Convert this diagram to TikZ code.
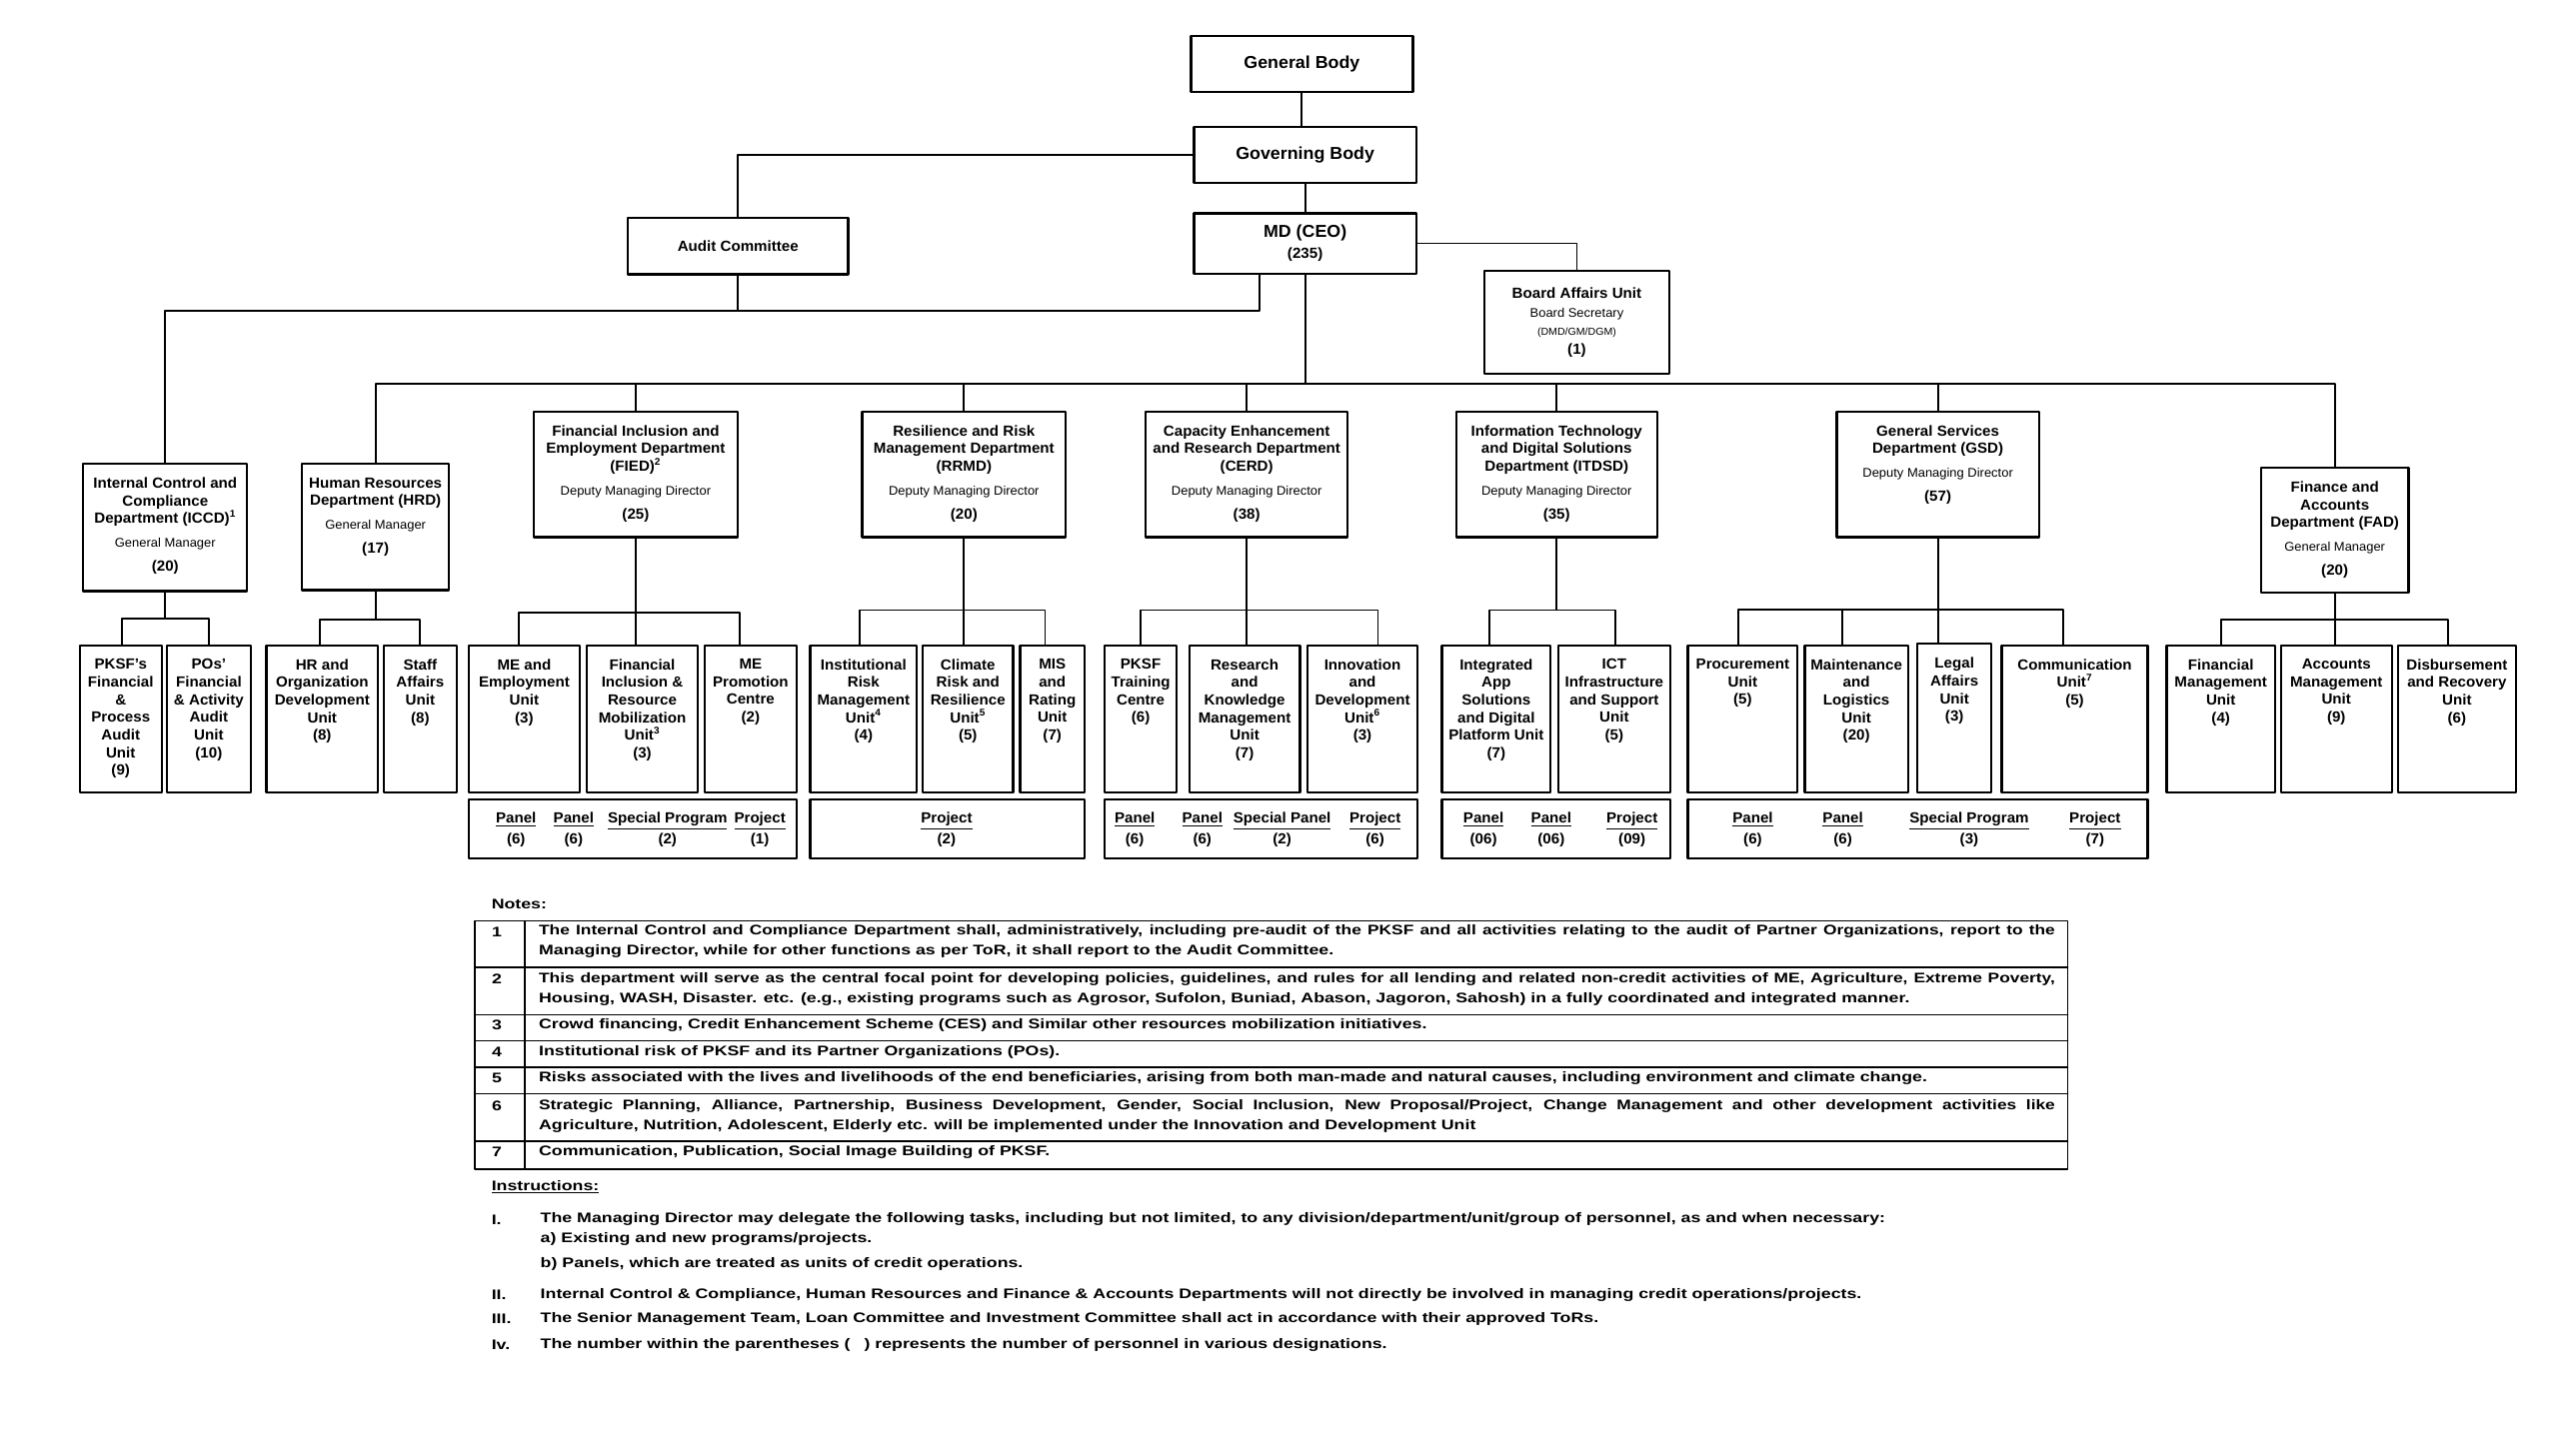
\documentclass[tikz,border=0pt]{standalone}
\usepackage{fontspec}
\setmainfont{Liberation Sans}[FakeStretch=1.03]
\newfontfamily\notesfont{Liberation Sans}[FakeStretch=1.28]
\newfontfamily\notesjfont{Liberation Sans}[FakeStretch=1.25]
\newlength\notew
\setlength\notew{929pt}
\newcommand{\fnmark}[1]{\textsuperscript{#1}}
\newcommand{\role}[1]{{\mdseries\fontsize{7.7}{10.8}\selectfont #1}}

\begin{document}
\begin{tikzpicture}[line cap=round,line join=round,x=1pt,y=-1pt,
  box/.style={draw,line width=1.4pt,inner sep=0pt,anchor=north west,align=center,font=\fontsize{9}{10.8}\selectfont\bfseries},
  ulbl/.style={anchor=north,inner sep=0pt,yshift=-9pt,align=center,font=\fontsize{9}{10.8}\selectfont\bfseries},
  link/.style={line width=1.1pt},
  pnltxt/.style={align=center,inner sep=0pt,font=\fontsize{9}{12.6}\selectfont\bfseries},
  note/.style={inner sep=0pt,anchor=west,font=\notesfont\bfseries\fontsize{8.5}{12.2}\selectfont},
  notej/.style={note,font=\notesjfont\bfseries\fontsize{8.5}{12.2}\selectfont},
  tbl/.style={line width=0.9pt}]
\useasboundingbox (0,-1.5) rectangle (1568,890.9);

% top of the chart
\node[box,minimum width=136,minimum height=34,font=\fontsize{10.6}{12.5}\selectfont\bfseries] (genbody) at (729,20) {General Body};
\node[box,minimum width=136,minimum height=34.5,font=\fontsize{10.6}{12.5}\selectfont\bfseries] (govbody) at (731,75.5) {Governing Body};
\node[box,minimum width=135,minimum height=34.5] (audit) at (384,131.5) {Audit Committee};
\node[box,minimum width=136,minimum height=37,font=\fontsize{10.6}{13}\selectfont\bfseries] (mdceo) at (731,128.5) {MD (CEO)\\{\fontsize{9}{10}\selectfont(235)}};
\node[box,minimum width=113,minimum height=63] (board) at (909,164) {Board Affairs Unit\\[1pt]\role{Board Secretary}\\{\mdseries\fontsize{6.3}{8}\selectfont(DMD/GM/DGM)}\\[1pt](1)};

% departments
\node[box,minimum width=100.5,minimum height=78,label={[ulbl]north:{Internal Control and\\Compliance\\Department (ICCD)\fnmark{1}\\[3.8pt]\role{General Manager}\\[3.8pt](20)}}] (iccd) at (50.3,282) {};
\node[box,minimum width=90,minimum height=77.5,label={[ulbl]north:{Human Resources\\Department (HRD)\\[3.8pt]\role{General Manager}\\[3.8pt](17)}}] (hrd) at (184.4,282) {};
\node[box,minimum width=124.6,minimum height=77,label={[ulbl]north:{Financial Inclusion and\\Employment Department\\(FIED)\fnmark{2}\\[3.8pt]\role{Deputy Managing Director}\\[3.8pt](25)}}] (fied) at (326.5,250) {};
\node[box,minimum width=124.7,minimum height=77,label={[ulbl]north:{Resilience and Risk\\Management Department\\(RRMD)\\[3.8pt]\role{Deputy Managing Director}\\[3.8pt](20)}}] (rrmd) at (527.6,250) {};
\node[box,minimum width=123.8,minimum height=77,label={[ulbl]north:{Capacity Enhancement\\and Research Department\\(CERD)\\[3.8pt]\role{Deputy Managing Director}\\[3.8pt](38)}}] (cerd) at (701.3,250) {};
\node[box,minimum width=123.2,minimum height=77,label={[ulbl]north:{Information Technology\\and Digital Solutions\\Department (ITDSD)\\[3.8pt]\role{Deputy Managing Director}\\[3.8pt](35)}}] (itdsd) at (891.5,250) {};
\node[box,minimum width=123.8,minimum height=77,label={[ulbl]north:{General Services\\Department (GSD)\\[3.8pt]\role{Deputy Managing Director}\\[3.8pt](57)}}] (gsd) at (1124.8,250) {};
\node[box,minimum width=90.4,minimum height=76.5,label={[ulbl]north:{Finance and\\Accounts\\Department (FAD)\\[3.8pt]\role{General Manager}\\[3.8pt](20)}}] (fad) at (1384.7,284.5) {};

% units
\node[box,minimum width=50.3,minimum height=90,label={[ulbl]north:{PKSF’s\\Financial\\\&\\Process\\Audit\\Unit\\(9)}}] (pksfaud) at (48.1,393.3) {};
\node[box,minimum width=51.3,minimum height=90,label={[ulbl]north:{POs’\\Financial\\\& Activity\\Audit\\Unit\\(10)}}] (poaud) at (101.6,393.3) {};
\node[box,minimum width=68.2,minimum height=90,label={[ulbl]north:{HR and\\Organization\\Development\\Unit\\(8)}}] (hrod) at (162.6,393.3) {};
\node[box,minimum width=44.9,minimum height=90,label={[ulbl]north:{Staff\\Affairs\\Unit\\(8)}}] (staff) at (234.3,393.3) {};
\node[box,minimum width=67.8,minimum height=90,label={[ulbl]north:{ME and\\Employment\\Unit\\(3)}}] (meemp) at (286.6,393.3) {};
\node[box,minimum width=68.1,minimum height=90,label={[ulbl]north:{Financial\\Inclusion \&\\Resource\\Mobilization\\Unit\fnmark{3}\\(3)}}] (finincl) at (358.8,393.3) {};
\node[box,minimum width=56.4,minimum height=90,label={[ulbl]north:{ME\\Promotion\\Centre\\(2)}}] (meprom) at (431,393.3) {};
\node[box,minimum width=65.2,minimum height=90,label={[ulbl]north:{Institutional\\Risk\\Management\\Unit\fnmark{4}\\(4)}}] (instrisk) at (495.8,393.3) {};
\node[box,minimum width=55.3,minimum height=90,label={[ulbl]north:{Climate\\Risk and\\Resilience\\Unit\fnmark{5}\\(5)}}] (climate) at (564.7,393.3) {};
\node[box,minimum width=39.6,minimum height=90,label={[ulbl]north:{MIS\\and\\Rating\\Unit\\(7)}}] (misr) at (624.3,393.3) {};
\node[box,minimum width=44,minimum height=90,label={[ulbl]north:{PKSF\\Training\\Centre\\(6)}}] (pksftc) at (676.2,393.3) {};
\node[box,minimum width=67.8,minimum height=90,label={[ulbl]north:{Research\\and\\Knowledge\\Management\\Unit\\(7)}}] (rkm) at (728,393.3) {};
\node[box,minimum width=67.3,minimum height=90,label={[ulbl]north:{Innovation\\and\\Development\\Unit\fnmark{6}\\(3)}}] (innov) at (800.5,393.3) {};
\node[box,minimum width=66.4,minimum height=90,label={[ulbl]north:{Integrated\\App\\Solutions\\and Digital\\Platform Unit\\(7)}}] (intapp) at (882.9,393.3) {};
\node[box,minimum width=68.4,minimum height=90,label={[ulbl]north:{ICT\\Infrastructure\\and Support\\Unit\\(5)}}] (ictinf) at (954.2,393.3) {};
\node[box,minimum width=67.2,minimum height=90,label={[ulbl]north:{Procurement\\Unit\\(5)}}] (procu) at (1033.5,393.3) {};
\node[box,minimum width=63.2,minimum height=90,label={[ulbl]north:{Maintenance\\and\\Logistics\\Unit\\(20)}}] (maint) at (1105.2,393.3) {};
\node[box,minimum width=45.5,minimum height=91,label={[ulbl]north:{Legal\\Affairs\\Unit\\(3)}}] (legal) at (1174.1,392.4) {};
\node[box,minimum width=89.5,minimum height=90,label={[ulbl]north:{Communication\\Unit\fnmark{7}\\(5)}}] (comm) at (1225.8,393.3) {};
\node[box,minimum width=66.4,minimum height=90,label={[ulbl]north:{Financial\\Management\\Unit\\(4)}}] (finm) at (1326.9,393.3) {};
\node[box,minimum width=68.1,minimum height=90,label={[ulbl]north:{Accounts\\Management\\Unit\\(9)}}] (accm) at (1396.8,393.3) {};
\node[box,minimum width=72.5,minimum height=90,label={[ulbl]north:{Disbursement\\and Recovery\\Unit\\(6)}}] (disb) at (1468.5,393.3) {};

% panels and projects
\node[box,minimum width=200.8,minimum height=36.3] (fiedpnl) at (286.6,487.7) {};
\node[box,minimum width=168.1,minimum height=36.3] (rrmdpnl) at (495.8,487.7) {};
\node[box,minimum width=191.6,minimum height=36.3] (cerdpnl) at (676.2,487.7) {};
\node[box,minimum width=139.7,minimum height=36.3] (itdsdpnl) at (882.9,487.7) {};
\node[box,minimum width=281.8,minimum height=36.3] (gsdpnl) at (1033.5,487.7) {};
\foreach \x/\t/\n in {316.2/Panel/6,351.5/Panel/6,409/Special Program/2,465.6/Project/1,
  580/Project/2,
  695.3/Panel/6,736.7/Panel/6,785.6/Special Panel/2,842.6/Project/6,
  909/Panel/06,950.5/Panel/06,1000/Project/09,
  1074/Panel/6,1129.2/Panel/6,1206.6/Special Program/3,1283.7/Project/7}
  \node[pnltxt] at (\x,507) {\underline{\t}\\(\n)};

% connectors
\coordinate (acbus) at (0,189);
\coordinate (dptbus) at (0,233.5);
\draw[link] (genbody.south) -- (genbody.south |- govbody.north);
\draw[link] (govbody.south) -- (mdceo.north);
\draw[link] (govbody.west) -| (audit.north);
\draw[link] (mdceo.east) -| (board.north);
\draw[link] ([xshift=-28pt]mdceo.south) |- (iccd.north |- acbus) -- (iccd.north);
\draw[link] (audit.south) -- (audit.south |- acbus);
\draw[link] (mdceo.south) -- (mdceo.south |- dptbus);
\draw[link] (hrd.north) -- (hrd.north |- dptbus) -- (fad.north |- dptbus) -- (fad.north);
\foreach \d in {fied,rrmd,cerd,itdsd,gsd}
  \draw[link] (\d.north) -- (\d.north |- dptbus);
\foreach \c/\dx in {pksfaud/1,poaud/0}
  \draw[link] (iccd.south) -- ++(0,16) -| ([xshift=\dx pt]\c.north);
\foreach \c/\dx in {hrod/-1.6,staff/0}
  \draw[link] (hrd.south) -- ++(0,17.5) -| ([xshift=\dx pt]\c.north);
\foreach \c/\dx in {meemp/-3.1,finincl/-4.05,meprom/-6.6}
  \draw[link] (fied.south) -- ++(0,45.5) -| ([xshift=\dx pt]\c.north);
\foreach \c/\dx in {instrisk/-2.6,climate/-2.4,misr/-4.5}
  \draw[link] (rrmd.south) -- ++(0,44) -| ([xshift=\dx pt]\c.north);
\foreach \c/\dx in {pksftc/0,rkm/1.3,innov/9.45}
  \draw[link] (cerd.south) -- ++(0,44) -| ([xshift=\dx pt]\c.north);
\foreach \c/\dx in {intapp/-4.1,ictinf/0.6}
  \draw[link] (itdsd.south) -- ++(0,44) -| ([xshift=\dx pt]\c.north);
\foreach \c/\dx in {procu/-2.9,maint/-8.9,legal/-10.15,comm/-6.85}
  \draw[link] (gsd.south) -- ++(0,43.5) -| ([xshift=\dx pt]\c.north);
\foreach \c/\dx in {finm/0,accm/-0.95,disb/-5.45}
  \draw[link] (fad.south) -- ++(0,16) -| ([xshift=\dx pt]\c.north);

% notes table
\node[note] (noteshd) at (301,552.5) {Notes:};
\draw[tbl] (291,563) rectangle (1267,715);
\foreach \y in {591.5,620.5,636.5,652.5,669,698}
  \draw[tbl] (291,\y) -- (1267,\y);
\draw[tbl] (321.6,563) -- (321.6,715);
\foreach \n/\y in {1/569.5,2/598.5,3/627,4/643.5,5/659.5,6/676.3,7/704.5}
  \node[note,anchor=center] (nnum\n) at (304.5,\y) {\n};
\node[notej] (n1a) at (330,569.5) {\makebox[\notew][s]{The Internal Control and Compliance Department shall, administratively, including pre-audit of the PKSF and all activities relating to the audit of Partner Organizations, report to the}};
\node[note] (n1b) at (330,581.7) {Managing Director, while for other functions as per ToR, it shall report to the Audit Committee.};
\node[notej] (n2a) at (330,598.5) {\makebox[\notew][s]{This department will serve as the central focal point for developing policies, guidelines, and rules for all lending and related non-credit activities of ME, Agriculture, Extreme Poverty,}};
\node[note] (n2b) at (330,611) {Housing, WASH, Disaster. etc. (e.g., existing programs such as Agrosor, Sufolon, Buniad, Abason, Jagoron, Sahosh) in a fully coordinated and integrated manner.};
\node[note] (n3) at (330,627) {Crowd financing, Credit Enhancement Scheme (CES) and Similar other resources mobilization initiatives.};
\node[note] (n4) at (330,643.5) {Institutional risk of PKSF and its Partner Organizations (POs).};
\node[note] (n5) at (330,659.5) {Risks associated with the lives and livelihoods of the end beneficiaries, arising from both man-made and natural causes, including environment and climate change.};
\node[notej] (n6a) at (330,676.3) {\makebox[\notew][s]{Strategic Planning, Alliance, Partnership, Business Development, Gender, Social Inclusion, New Proposal/Project, Change Management and other development activities like}};
\node[note] (n6b) at (330,688.5) {Agriculture, Nutrition, Adolescent, Elderly etc. will be implemented under the Innovation and Development Unit};
\node[note] (n7) at (330,704.5) {Communication, Publication, Social Image Building of PKSF.};

% instructions
\node[note] (insthd) at (301,726) {\underline{Instructions:}};
\node[note] (i1) at (301,746) {I.};
\node[note] (i1t) at (331,746) {The Managing Director may delegate the following tasks, including but not limited, to any division/department/unit/group of personnel, as and when necessary:};
\node[note] (i1a) at (331,758) {a) Existing and new programs/projects.};
\node[note] (i1b) at (331,773) {b) Panels, which are treated as units of credit operations.};
\node[note] (i2) at (301,792) {II.};
\node[note] (i2t) at (331,792) {Internal Control \& Compliance, Human Resources and Finance \& Accounts Departments will not directly be involved in managing credit operations/projects.};
\node[note] (i3) at (301,807) {III.};
\node[note] (i3t) at (331,807) {The Senior Management Team, Loan Committee and Investment Committee shall act in accordance with their approved ToRs.};
\node[note] (i4) at (301,823) {Iv.};
\node[note] (i4t) at (331,823) {The number within the parentheses (\quad) represents the number of personnel in various designations.};
\end{tikzpicture}
\end{document}
